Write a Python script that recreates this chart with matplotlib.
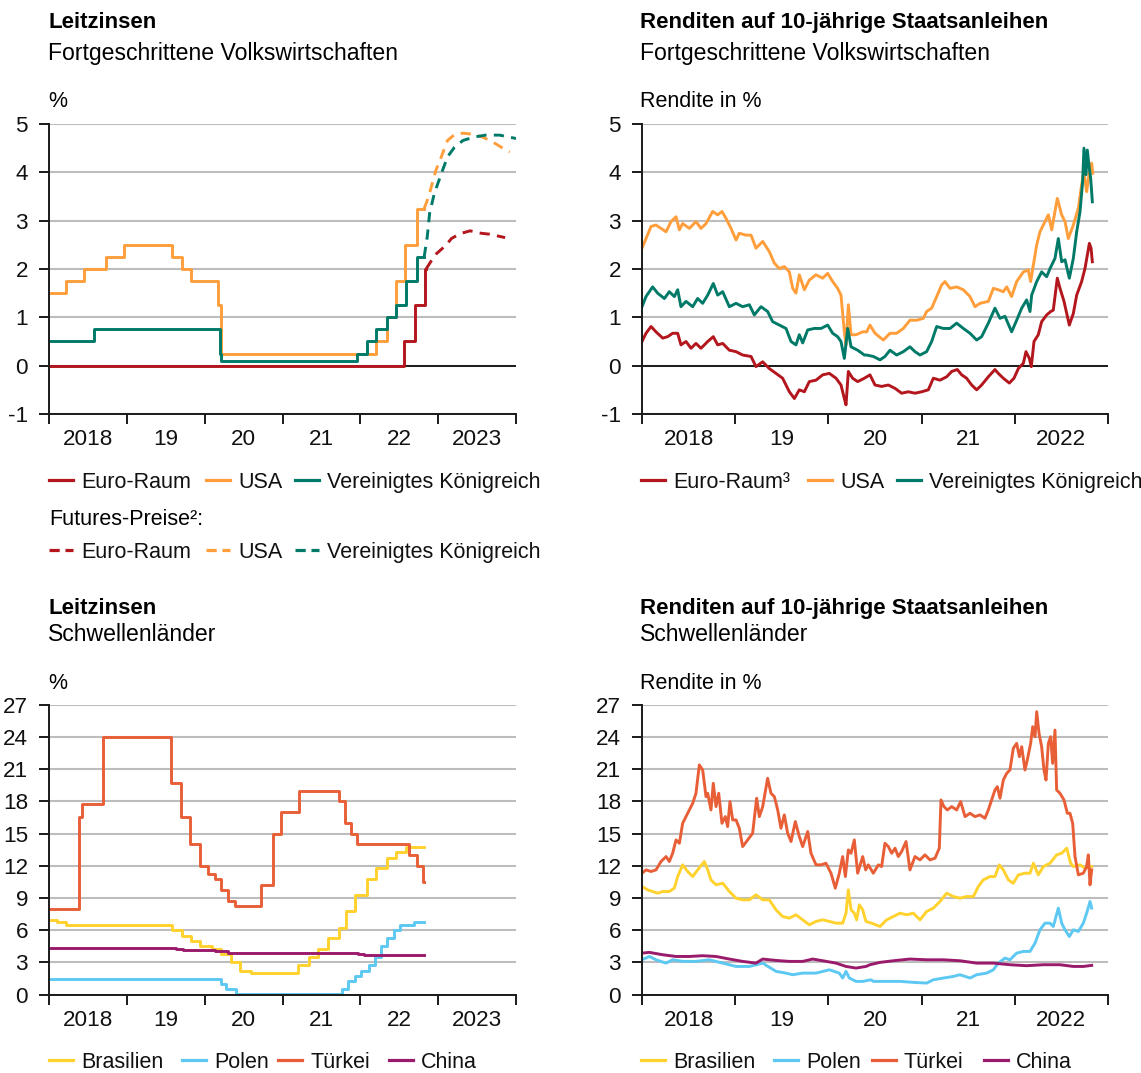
import matplotlib
matplotlib.use("Agg")
import matplotlib.pyplot as plt
from matplotlib.lines import Line2D
import numpy as np

plt.rcParams['font.family'] = ['Liberation Sans', 'DejaVu Sans']
plt.rcParams['axes.unicode_minus'] = False

# ---------------- colours ----------------
C_EUR = "#B3161C"
C_USA = "#FF9E3B"
C_GBR = "#007A68"
C_BRA = "#FFD22E"
C_POL = "#5DC8F2"
C_TUR = "#E85F37"
C_CHN = "#9A1A6C"

# ---------------- policy rates, advanced economies (step changes, decimal years) ----------------
usa_rate_t = [2018.0, 2018.219, 2018.449, 2018.737, 2018.967, 2019.581, 2019.715, 2019.830,
              2020.172, 2020.205, 2022.205, 2022.340, 2022.455, 2022.570, 2022.723, 2022.82]
usa_rate_v = [1.50, 1.75, 2.00, 2.25, 2.50, 2.25, 2.00, 1.75, 1.25, 0.25, 0.50, 1.00, 1.75, 2.50, 3.25, 3.25]

gbr_rate_t = [2018.0, 2018.584, 2020.191, 2020.213, 2021.956, 2022.090, 2022.205, 2022.340,
              2022.455, 2022.589, 2022.723, 2022.82]
gbr_rate_v = [0.50, 0.75, 0.25, 0.10, 0.25, 0.50, 0.75, 1.00, 1.25, 1.75, 2.25, 2.25]

eur_rate_t = [2018.0, 2022.567, 2022.701, 2022.836, 2022.845]
eur_rate_v = [0.00, 0.50, 1.25, 2.00, 2.00]

# futures prices
eur_fut_t = [2022.845, 2022.92, 2022.98, 2023.10, 2023.17, 2023.28, 2023.41, 2023.55, 2023.66, 2023.86]
eur_fut_v = [2.00, 2.19, 2.32, 2.49, 2.63, 2.73, 2.79, 2.74, 2.72, 2.65]
usa_fut_t = [2022.82, 2022.86, 2022.90, 2022.97, 2023.04, 2023.12, 2023.21, 2023.32, 2023.44,
             2023.57, 2023.70, 2023.81, 2023.92]
usa_fut_v = [3.25, 3.42, 3.63, 4.04, 4.32, 4.66, 4.78, 4.81, 4.79, 4.73, 4.63, 4.52, 4.42]
gbr_fut_t = [2022.82, 2022.86, 2022.89, 2022.95, 2023.04, 2023.12, 2023.21, 2023.32, 2023.46,
             2023.61, 2023.79, 2024.0]
gbr_fut_v = [2.25, 2.67, 3.15, 3.56, 3.97, 4.32, 4.52, 4.66, 4.73, 4.77, 4.77, 4.70]

# ---------------- 10-year yields, advanced economies ----------------
usa_y_t = [2018.000, 2018.043, 2018.097, 2018.150, 2018.204, 2018.258, 2018.311, 2018.365, 2018.401,
           2018.436, 2018.508, 2018.579, 2018.633, 2018.687, 2018.758, 2018.812, 2018.858, 2018.901,
           2018.955, 2019.009, 2019.044, 2019.116, 2019.170, 2019.223, 2019.295, 2019.366, 2019.420,
           2019.474, 2019.527, 2019.581, 2019.617, 2019.652, 2019.688, 2019.742, 2019.795, 2019.867,
           2019.939, 2019.992, 2020.046, 2020.099, 2020.135, 2020.171, 2020.189, 2020.214, 2020.243,
           2020.296, 2020.368, 2020.411, 2020.446, 2020.500, 2020.589, 2020.661, 2020.732, 2020.804,
           2020.875, 2020.947, 2021.019, 2021.054, 2021.108, 2021.162, 2021.215, 2021.251, 2021.305,
           2021.376, 2021.448, 2021.519, 2021.573, 2021.627, 2021.716, 2021.770, 2021.823, 2021.877,
           2021.913, 2021.966, 2022.020, 2022.092, 2022.145, 2022.170, 2022.199, 2022.235, 2022.270,
           2022.324, 2022.360, 2022.396, 2022.456, 2022.503, 2022.539, 2022.574, 2022.628, 2022.682,
           2022.717, 2022.742, 2022.771, 2022.800, 2022.825, 2022.836]
usa_y_v = [2.43, 2.63, 2.88, 2.91, 2.84, 2.77, 2.98, 3.08, 2.81,
           2.94, 2.84, 2.98, 2.84, 2.94, 3.19, 3.12, 3.19, 3.05,
           2.84, 2.60, 2.74, 2.70, 2.70, 2.43, 2.57, 2.36, 2.12,
           2.01, 2.05, 1.94, 1.60, 1.50, 1.88, 1.57, 1.77, 1.88,
           1.81, 1.91, 1.74, 1.60, 1.46, 0.70, 0.43, 1.26, 0.64,
           0.64, 0.70, 0.70, 0.84, 0.67, 0.53, 0.67, 0.67, 0.77,
           0.94, 0.94, 0.98, 1.12, 1.19, 1.43, 1.67, 1.74, 1.60,
           1.63, 1.57, 1.43, 1.22, 1.29, 1.33, 1.60, 1.57, 1.53,
           1.63, 1.43, 1.74, 1.94, 1.98, 1.74, 2.08, 2.50, 2.77,
           2.98, 3.12, 2.81, 3.46, 3.12, 2.98, 2.63, 2.91, 3.26,
           3.74, 4.01, 3.60, 4.01, 4.19, 3.98]

gbr_y_t = [2018.000, 2018.043, 2018.114, 2018.168, 2018.240, 2018.293, 2018.347, 2018.383, 2018.418,
           2018.472, 2018.544, 2018.597, 2018.651, 2018.705, 2018.765, 2018.812, 2018.866, 2018.937,
           2019.009, 2019.080, 2019.152, 2019.205, 2019.277, 2019.348, 2019.402, 2019.474, 2019.545,
           2019.599, 2019.652, 2019.688, 2019.724, 2019.778, 2019.849, 2019.921, 2019.992, 2020.046,
           2020.099, 2020.135, 2020.171, 2020.207, 2020.243, 2020.314, 2020.386, 2020.411, 2020.482,
           2020.554, 2020.607, 2020.661, 2020.732, 2020.804, 2020.875, 2020.929, 2020.983, 2021.054,
           2021.108, 2021.162, 2021.233, 2021.305, 2021.376, 2021.448, 2021.519, 2021.591, 2021.644,
           2021.716, 2021.787, 2021.841, 2021.895, 2021.966, 2022.020, 2022.074, 2022.127, 2022.163,
           2022.181, 2022.235, 2022.288, 2022.342, 2022.378, 2022.431, 2022.467, 2022.503, 2022.539,
           2022.585, 2022.628, 2022.664, 2022.700, 2022.728, 2022.742, 2022.764, 2022.778, 2022.800,
           2022.814, 2022.832]
gbr_y_v = [1.22, 1.43, 1.63, 1.50, 1.39, 1.53, 1.43, 1.57, 1.22,
           1.33, 1.22, 1.39, 1.29, 1.46, 1.70, 1.46, 1.53, 1.22,
           1.29, 1.22, 1.26, 1.05, 1.22, 1.12, 0.91, 0.84, 0.77,
           0.50, 0.43, 0.64, 0.47, 0.74, 0.77, 0.77, 0.84, 0.67,
           0.60, 0.50, 0.15, 0.77, 0.39, 0.32, 0.22, 0.22, 0.19,
           0.12, 0.19, 0.32, 0.22, 0.29, 0.39, 0.29, 0.22, 0.29,
           0.50, 0.81, 0.77, 0.77, 0.88, 0.77, 0.67, 0.53, 0.60,
           0.88, 1.19, 0.98, 1.02, 0.70, 0.94, 1.19, 1.36, 1.12,
           1.46, 1.74, 1.94, 1.84, 2.01, 2.22, 2.63, 2.15, 2.19,
           1.81, 2.22, 2.77, 3.19, 3.81, 4.50, 3.95, 4.46, 4.08,
           3.88, 3.39]

eur_y_t = [2018.000, 2018.043, 2018.097, 2018.150, 2018.222, 2018.275, 2018.329, 2018.383, 2018.418,
           2018.472, 2018.526, 2018.579, 2018.633, 2018.705, 2018.765, 2018.812, 2018.866, 2018.937,
           2019.009, 2019.080, 2019.170, 2019.223, 2019.295, 2019.366, 2019.438, 2019.509, 2019.581,
           2019.635, 2019.688, 2019.742, 2019.795, 2019.867, 2019.939, 2020.010, 2020.082, 2020.135,
           2020.171, 2020.189, 2020.214, 2020.260, 2020.314, 2020.386, 2020.446, 2020.500, 2020.571,
           2020.643, 2020.715, 2020.786, 2020.858, 2020.929, 2021.001, 2021.072, 2021.126, 2021.197,
           2021.269, 2021.323, 2021.383, 2021.430, 2021.483, 2021.537, 2021.591, 2021.644, 2021.716,
           2021.787, 2021.823, 2021.877, 2021.941, 2021.991, 2022.038, 2022.092, 2022.120, 2022.156,
           2022.177, 2022.206, 2022.252, 2022.288, 2022.342, 2022.385, 2022.413, 2022.456, 2022.485,
           2022.528, 2022.585, 2022.628, 2022.664, 2022.717, 2022.753, 2022.800, 2022.818, 2022.832]
eur_y_v = [0.50, 0.67, 0.81, 0.70, 0.57, 0.60, 0.67, 0.67, 0.43,
           0.50, 0.36, 0.46, 0.36, 0.50, 0.60, 0.43, 0.46, 0.32,
           0.29, 0.22, 0.19, -0.02, 0.08, -0.06, -0.16, -0.26, -0.54,
           -0.68, -0.50, -0.54, -0.33, -0.30, -0.19, -0.16, -0.26, -0.40,
           -0.68, -0.81, -0.12, -0.26, -0.33, -0.26, -0.19, -0.40, -0.43,
           -0.40, -0.47, -0.57, -0.54, -0.57, -0.54, -0.50, -0.26, -0.30,
           -0.23, -0.12, -0.08, -0.19, -0.26, -0.40, -0.50, -0.40, -0.23,
           -0.08, -0.16, -0.26, -0.36, -0.26, -0.06, 0.05, 0.29, 0.15,
           -0.02, 0.50, 0.64, 0.91, 1.05, 1.12, 1.15, 1.81, 1.60,
           1.33, 0.84, 1.08, 1.46, 1.74, 2.01, 2.53, 2.43, 2.15]

# ---------------- policy rates, emerging markets (step changes) ----------------
bra_rate_t = [2018.0, 2018.101, 2018.216, 2019.578, 2019.712, 2019.827, 2019.942, 2020.096, 2020.210,
              2020.344, 2020.459, 2020.593, 2021.205, 2021.340, 2021.455, 2021.589, 2021.723, 2021.819,
              2021.934, 2022.088, 2022.203, 2022.337, 2022.452, 2022.586, 2022.82]
bra_rate_v = [7.00, 6.75, 6.50, 6.00, 5.50, 5.00, 4.50, 4.25, 3.75, 3.00, 2.25, 2.00, 2.75, 3.50,
              4.25, 5.25, 6.25, 7.75, 9.25, 10.75, 11.75, 12.75, 13.25, 13.75, 13.75]

pol_rate_t = [2018.0, 2020.210, 2020.270, 2020.407, 2021.764, 2021.841, 2021.937, 2022.011, 2022.107,
              2022.184, 2022.263, 2022.342, 2022.436, 2022.515, 2022.685, 2022.82]
pol_rate_v = [1.50, 1.00, 0.50, 0.10, 0.50, 1.25, 1.75, 2.25, 2.75, 3.50, 4.50, 5.25, 6.00, 6.50,
              6.75, 6.75]

tur_rate_t = [2018.0, 2018.389, 2018.430, 2018.699, 2019.562, 2019.696, 2019.811, 2019.945, 2020.041,
              2020.134, 2020.208, 2020.306, 2020.385, 2020.730, 2020.883, 2020.978, 2021.208, 2021.726,
              2021.803, 2021.879, 2021.956, 2022.627, 2022.723, 2022.800, 2022.82]
tur_rate_v = [8.00, 16.50, 17.75, 24.00, 19.75, 16.50, 14.00, 12.00, 11.25, 10.75, 9.75, 8.75, 8.25,
              10.25, 15.00, 17.00, 19.00, 18.00, 16.00, 15.00, 14.00, 13.00, 12.00, 10.50, 10.50]

chn_rate_t = [2018.0, 2019.633, 2019.718, 2019.885, 2020.137, 2020.301, 2021.967, 2022.052, 2022.638,
              2022.82]
chn_rate_v = [4.35, 4.25, 4.20, 4.15, 4.05, 3.85, 3.80, 3.70, 3.65, 3.65]

# ---------------- 10-year yields, emerging markets ----------------
tur_y_t = [2018.000, 2018.043, 2018.097, 2018.150, 2018.204, 2018.258, 2018.293, 2018.329, 2018.365,
           2018.401, 2018.436, 2018.472, 2018.508, 2018.544, 2018.579, 2018.615, 2018.651, 2018.687,
           2018.705, 2018.740, 2018.765, 2018.794, 2018.823, 2018.858, 2018.894, 2018.919, 2018.944,
           2018.973, 2019.009, 2019.044, 2019.080, 2019.134, 2019.187, 2019.230, 2019.259, 2019.295,
           2019.348, 2019.384, 2019.420, 2019.456, 2019.491, 2019.527, 2019.563, 2019.599, 2019.645,
           2019.688, 2019.724, 2019.778, 2019.813, 2019.867, 2019.921, 2019.974, 2020.028, 2020.074,
           2020.117, 2020.153, 2020.182, 2020.214, 2020.243, 2020.278, 2020.314, 2020.368, 2020.400,
           2020.428, 2020.482, 2020.536, 2020.571, 2020.607, 2020.643, 2020.679, 2020.715, 2020.750,
           2020.786, 2020.833, 2020.875, 2020.929, 2020.983, 2021.036, 2021.090, 2021.144, 2021.190,
           2021.208, 2021.240, 2021.276, 2021.323, 2021.376, 2021.419, 2021.466, 2021.519, 2021.573,
           2021.627, 2021.680, 2021.716, 2021.752, 2021.787, 2021.813, 2021.841, 2021.877, 2021.913,
           2021.948, 2021.984, 2022.020, 2022.049, 2022.074, 2022.109, 2022.134, 2022.170, 2022.192,
           2022.217, 2022.235, 2022.260, 2022.288, 2022.313, 2022.335, 2022.360, 2022.385, 2022.406,
           2022.431, 2022.449, 2022.485, 2022.528, 2022.564, 2022.592, 2022.621, 2022.646, 2022.682,
           2022.735, 2022.771, 2022.789, 2022.807, 2022.825]
tur_y_v = [11.31, 11.62, 11.47, 11.62, 12.40, 12.86, 12.40, 13.17, 14.41,
           14.10, 15.96, 16.58, 17.20, 17.82, 18.75, 21.39, 20.92, 18.44,
           18.75, 17.20, 19.68, 17.51, 18.75, 15.96, 16.58, 15.65, 17.98,
           16.27, 16.27, 15.50, 13.79, 14.41, 15.03, 18.29, 16.58, 17.51,
           20.15, 18.75, 18.44, 17.20, 15.50, 16.74, 15.03, 14.26, 16.12,
           14.72, 13.79, 15.19, 13.17, 12.09, 12.09, 12.24, 11.31, 9.92,
           11.31, 12.86, 11.00, 13.48, 13.17, 14.41, 11.31, 12.86, 11.62,
           12.09, 11.31, 12.09, 11.93, 14.10, 13.79, 13.17, 13.64, 12.86,
           13.33, 14.26, 11.62, 12.86, 12.55, 13.02, 12.55, 12.71, 13.64,
           18.13, 17.51, 17.20, 17.51, 17.20, 17.98, 16.58, 16.89, 16.58,
           16.74, 16.43, 17.20, 18.13, 19.06, 19.37, 18.29, 19.99, 20.61,
           20.92, 22.94, 23.40, 22.16, 23.09, 20.92, 21.85, 23.40, 24.95,
           24.02, 26.35, 24.33, 23.09, 20.92, 19.99, 23.40, 24.02, 21.54,
           24.64, 19.06, 18.75, 18.13, 16.89, 16.89, 15.96, 12.86, 11.16,
           11.31, 11.93, 13.02, 10.23, 11.62]

bra_y_t = [2018.000, 2018.061, 2018.114, 2018.168, 2018.222, 2018.293, 2018.347, 2018.383, 2018.436,
           2018.490, 2018.544, 2018.597, 2018.669, 2018.705, 2018.740, 2018.794, 2018.866, 2018.937,
           2019.009, 2019.080, 2019.152, 2019.223, 2019.295, 2019.366, 2019.438, 2019.509, 2019.581,
           2019.652, 2019.724, 2019.795, 2019.867, 2019.939, 2020.010, 2020.082, 2020.153, 2020.189,
           2020.214, 2020.243, 2020.278, 2020.303, 2020.332, 2020.368, 2020.403, 2020.464, 2020.554,
           2020.625, 2020.697, 2020.768, 2020.840, 2020.911, 2020.983, 2021.054, 2021.126, 2021.197,
           2021.269, 2021.340, 2021.412, 2021.483, 2021.555, 2021.609, 2021.662, 2021.734, 2021.787,
           2021.834, 2021.877, 2021.931, 2021.984, 2022.038, 2022.109, 2022.163, 2022.199, 2022.252,
           2022.306, 2022.378, 2022.449, 2022.503, 2022.557, 2022.599, 2022.628, 2022.700, 2022.753,
           2022.825]
bra_y_v = [10.07, 9.76, 9.61, 9.45, 9.61, 9.61, 9.92, 11.00, 12.09,
           11.47, 11.00, 11.62, 12.40, 11.62, 10.69, 10.23, 10.38, 9.61,
           8.99, 8.83, 8.83, 9.30, 8.83, 8.83, 7.90, 7.28, 7.13,
           7.44, 6.97, 6.51, 6.82, 6.97, 6.82, 6.66, 6.66, 7.59,
           9.76, 7.90, 7.59, 6.97, 8.37, 7.90, 6.82, 6.66, 6.35,
           6.97, 7.28, 7.59, 7.44, 7.59, 6.97, 7.75, 8.06, 8.68,
           9.45, 9.14, 8.99, 9.14, 9.14, 10.07, 10.69, 11.00, 11.00,
           12.09, 11.62, 10.69, 10.38, 11.16, 11.31, 11.31, 12.24, 11.16,
           11.93, 12.24, 13.02, 13.17, 13.64, 12.24, 11.93, 12.09, 11.78,
           11.93]

pol_y_t = [2018.000, 2018.079, 2018.150, 2018.258, 2018.329, 2018.436, 2018.579, 2018.722, 2018.866,
           2019.009, 2019.152, 2019.295, 2019.438, 2019.545, 2019.617, 2019.724, 2019.867, 2020.010,
           2020.117, 2020.153, 2020.189, 2020.225, 2020.296, 2020.368, 2020.457, 2020.482, 2020.625,
           2020.768, 2020.911, 2021.054, 2021.126, 2021.233, 2021.340, 2021.412, 2021.519, 2021.591,
           2021.698, 2021.770, 2021.823, 2021.895, 2021.948, 2022.020, 2022.092, 2022.163, 2022.217,
           2022.270, 2022.324, 2022.378, 2022.413, 2022.467, 2022.503, 2022.539, 2022.585, 2022.628,
           2022.682, 2022.735, 2022.771, 2022.807, 2022.825]
pol_y_v = [3.25, 3.56, 3.25, 2.94, 3.25, 3.10, 3.10, 3.25, 2.94,
           2.63, 2.63, 2.94, 2.17, 2.01, 1.86, 2.01, 2.01, 2.32,
           2.01, 1.55, 2.17, 1.55, 1.24, 1.24, 1.39, 1.24, 1.24,
           1.24, 1.15, 1.08, 1.39, 1.55, 1.70, 1.86, 1.55, 1.86,
           2.01, 2.32, 2.94, 3.41, 3.25, 3.87, 4.03, 4.03, 4.80,
           6.04, 6.66, 6.66, 6.35, 8.06, 6.66, 6.04, 5.42, 6.04,
           5.89, 6.66, 7.59, 8.68, 8.06]

chn_y_t = [2018.000, 2018.079, 2018.222, 2018.365, 2018.508, 2018.651, 2018.794, 2018.937, 2019.080,
           2019.223, 2019.295, 2019.438, 2019.581, 2019.724, 2019.831, 2019.939, 2020.082, 2020.189,
           2020.296, 2020.403, 2020.446, 2020.554, 2020.697, 2020.875, 2021.054, 2021.233, 2021.412,
           2021.591, 2021.770, 2021.948, 2022.127, 2022.306, 2022.485, 2022.628, 2022.735, 2022.825]
chn_y_v = [3.87, 3.94, 3.72, 3.56, 3.56, 3.63, 3.56, 3.32, 3.10,
           2.94, 3.32, 3.19, 3.10, 3.10, 3.32, 3.16, 2.94, 2.63,
           2.48, 2.63, 2.79, 3.01, 3.16, 3.32, 3.25, 3.25, 3.16,
           2.94, 2.94, 2.79, 2.70, 2.79, 2.79, 2.63, 2.63, 2.73]

# ---------------- labels ----------------
years_long = ['2018', '19', '20', '21', '22', '2023']
years_short = ['2018', '19', '20', '21', '2022']

# ---------------- figure ----------------
W, H = 1141, 1073
fig = plt.figure(figsize=(W / 100, H / 100), dpi=100)

FS_TICK = 16.2
FS_TXT = 15.5
FS_SUB = 16.6
FS_TITLE = 16
LW = 2.1


def fx(x):
    return x / W


def fy(y):
    return 1 - y / H


def make_ax(left, top, width, height):
    return fig.add_axes([fx(left), fy(top + height), width / W, height / H])


def style(ax, x0, x1, ylo, yhi, ystep, labels, zero_line):
    ax.set_xlim(x0, x1)
    ax.set_ylim(ylo, yhi)
    for s in ['top', 'right']:
        ax.spines[s].set_visible(False)
    for s in ['left', 'bottom']:
        ax.spines[s].set_linewidth(1.4)
        ax.spines[s].set_color('#1a1a1a')
    ax.set_yticks(np.arange(ylo, yhi + 0.01, ystep))
    ax.set_yticklabels([str(int(v)) for v in np.arange(ylo, yhi + 0.01, ystep)])
    ax.set_xticks(np.arange(x0, x1 + 1))
    ax.set_xticklabels([])
    ax.set_xticks(np.arange(x0, x1) + 0.5, minor=True)
    ax.set_xticklabels(labels, minor=True)
    ax.tick_params(axis='x', which='major', length=7, width=1.4, color='#1a1a1a', direction='out')
    ax.tick_params(axis='x', which='minor', length=0, pad=11, labelsize=FS_TICK, colors='#111111')
    ax.tick_params(axis='y', length=7, width=1.4, pad=8, labelsize=FS_TICK, color='#1a1a1a',
                   labelcolor='#111111')
    ax.yaxis.grid(True, color='#BDBDBD', lw=1.5)
    ax.set_axisbelow(True)
    if zero_line:
        ax.axhline(0, color='#1a1a1a', lw=1.4, zorder=1.5)


def leg(x0, y, color, label, ls='-', textx=None):
    fig.add_artist(Line2D([fx(x0), fx(x0 + 24)], [fy(y), fy(y)], color=color, lw=2.3, ls=ls,
                          transform=fig.transFigure))
    fig.text(fx(textx if textx is not None else x0 + 32), fy(y + 8), label, fontsize=FS_TXT,
             va='baseline', color='#111111')


# ---------- panel 1: policy rates, advanced ----------
ax1 = make_ax(49, 124, 467, 290)
style(ax1, 2018, 2024, -1, 5, 1, years_long, True)
ax1.plot(usa_rate_t, usa_rate_v, drawstyle='steps-post', color=C_USA, lw=LW)
ax1.plot(gbr_rate_t, gbr_rate_v, drawstyle='steps-post', color=C_GBR, lw=LW)
ax1.plot(eur_rate_t, eur_rate_v, drawstyle='steps-post', color=C_EUR, lw=LW)
ax1.plot(usa_fut_t, usa_fut_v, color=C_USA, lw=LW, ls=(0, (3.5, 2.5)))
ax1.plot(gbr_fut_t, gbr_fut_v, color=C_GBR, lw=LW, ls=(0, (3.5, 2.5)))
ax1.plot(eur_fut_t, eur_fut_v, color=C_EUR, lw=LW, ls=(0, (3.5, 2.5)))

fig.text(fx(48), fy(28), 'Leitzinsen', fontsize=FS_TITLE, fontweight='bold', va='baseline')
fig.text(fx(48), fy(60), 'Fortgeschrittene Volkswirtschaften', fontsize=FS_SUB, va='baseline')
fig.text(fx(48), fy(107), '%', fontsize=FS_TXT, va='baseline')

leg(49, 480, C_EUR, 'Euro-Raum')
leg(206, 480, C_USA, 'USA')
leg(295, 480, C_GBR, 'Vereinigtes Königreich')
fig.text(fx(49), fy(525), 'Futures-Preise²:', fontsize=FS_TXT, va='baseline')
leg(49, 550, C_EUR, 'Euro-Raum', ls=(0, (3.2, 1.8)))
leg(206, 550, C_USA, 'USA', ls=(0, (3.2, 1.8)))
leg(295, 550, C_GBR, 'Vereinigtes Königreich', ls=(0, (3.2, 1.8)))

# ---------- panel 2: 10y yields, advanced ----------
ax2 = make_ax(642, 124, 466, 290)
style(ax2, 2018, 2023, -1, 5, 1, years_short, True)
ax2.plot(eur_y_t, eur_y_v, color=C_EUR, lw=LW)
ax2.plot(usa_y_t, usa_y_v, color=C_USA, lw=LW)
ax2.plot(gbr_y_t, gbr_y_v, color=C_GBR, lw=LW)

fig.text(fx(640), fy(28), 'Renditen auf 10-jährige Staatsanleihen', fontsize=FS_TITLE,
         fontweight='bold', va='baseline')
fig.text(fx(640), fy(60), 'Fortgeschrittene Volkswirtschaften', fontsize=FS_SUB, va='baseline')
fig.text(fx(640), fy(107), 'Rendite in %', fontsize=FS_TXT, va='baseline')

leg(641, 480, C_EUR, 'Euro-Raum³')
leg(808, 480, C_USA, 'USA')
leg(897, 480, C_GBR, 'Vereinigtes Königreich')

# ---------- panel 3: policy rates, emerging ----------
ax3 = make_ax(49, 704.7, 467, 290)
style(ax3, 2018, 2024, 0, 27, 3, years_long, False)
ax3.plot(bra_rate_t, bra_rate_v, drawstyle='steps-post', color=C_BRA, lw=LW)
ax3.plot(pol_rate_t, pol_rate_v, drawstyle='steps-post', color=C_POL, lw=LW)
ax3.plot(tur_rate_t, tur_rate_v, drawstyle='steps-post', color=C_TUR, lw=LW)
ax3.plot(chn_rate_t, chn_rate_v, drawstyle='steps-post', color=C_CHN, lw=LW)

fig.text(fx(48), fy(614), 'Leitzinsen', fontsize=FS_TITLE, fontweight='bold', va='baseline')
fig.text(fx(48), fy(641), 'Schwellenländer', fontsize=FS_SUB, va='baseline')
fig.text(fx(48), fy(689), '%', fontsize=FS_TXT, va='baseline')

leg(49, 1060, C_BRA, 'Brasilien')
leg(182, 1060, C_POL, 'Polen')
leg(278, 1060, C_TUR, 'Türkei')
leg(389, 1060, C_CHN, 'China')

# ---------- panel 4: 10y yields, emerging ----------
ax4 = make_ax(642, 704.7, 466, 290)
style(ax4, 2018, 2023, 0, 27, 3, years_short, False)
ax4.plot(bra_y_t, bra_y_v, color=C_BRA, lw=LW)
ax4.plot(pol_y_t, pol_y_v, color=C_POL, lw=LW)
ax4.plot(tur_y_t, tur_y_v, color=C_TUR, lw=LW)
ax4.plot(chn_y_t, chn_y_v, color=C_CHN, lw=LW)

fig.text(fx(640), fy(614), 'Renditen auf 10-jährige Staatsanleihen', fontsize=FS_TITLE,
         fontweight='bold', va='baseline')
fig.text(fx(640), fy(641), 'Schwellenländer', fontsize=FS_SUB, va='baseline')
fig.text(fx(640), fy(689), 'Rendite in %', fontsize=FS_TXT, va='baseline')

leg(641, 1060, C_BRA, 'Brasilien')
leg(774, 1060, C_POL, 'Polen')
leg(872, 1060, C_TUR, 'Türkei')
leg(984, 1060, C_CHN, 'China')

fig.savefig('out.png', dpi=100)
